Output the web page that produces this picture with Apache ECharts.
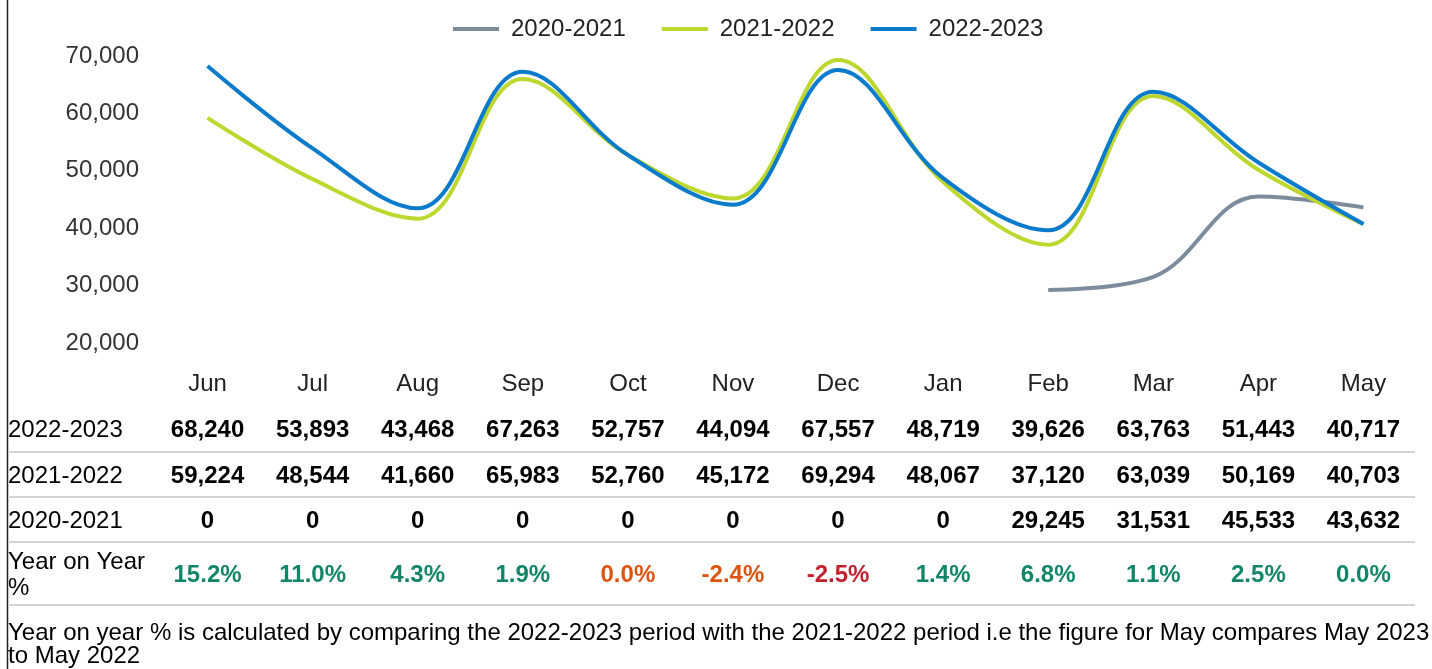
<!DOCTYPE html>
<html>
<head>
<meta charset="utf-8">
<script src="https://cdn.jsdelivr.net/npm/echarts@6/dist/echarts.min.js"></script>
<style>
  html, body { margin: 0; padding: 0; background: #fff; }
  #chart { width: 1432px; height: 669px; }
</style>
</head>
<body>
<div id="chart"></div>
<script>
const months = ['Jun', 'Jul', 'Aug', 'Sep', 'Oct', 'Nov', 'Dec', 'Jan', 'Feb', 'Mar', 'Apr', 'May']
const s2022 = [68240, 53893, 43468, 67263, 52757, 44094, 67557, 48719, 39626, 63763, 51443, 40717]
const s2021 = [59224, 48544, 41660, 65983, 52760, 45172, 69294, 48067, 37120, 63039, 50169, 40703]
const s2020 = [0, 0, 0, 0, 0, 0, 0, 0, 29245, 31531, 45533, 43632]
const yoy = [15.2, 11.0, 4.3, 1.9, 0.0, -2.4, -2.5, 1.4, 6.8, 1.1, 2.5, 0.0]
const yTicks = [20000, 30000, 40000, 50000, 60000, 70000]
const rowNames = ['2022-2023', '2021-2022', '2020-2021']
const note = 'Year on year % is calculated by comparing the 2022-2023 period with the 2021-2022 period i.e the figure for May compares May 2023\nto May 2022'

const FONT = 'Liberation Sans, Arial, sans-serif'
const FS = 24
const SMOOTH = 0.38
const fmt = (v) => v.toLocaleString('en-US')
const yoyColor = (i) => {
  const diff = s2022[i] - s2021[i]
  if (diff >= 0) return '#13866a'
  if (yoy[i] > -2.5) return '#dd5410'
  return '#c4212f'
}

// extra category axes used as table rows
const tableAxis = (labels, margin, color) => ({
  type: 'category',
  data: labels,
  position: 'bottom',
  axisLine: { show: false },
  axisTick: { show: false },
  axisLabel: {
    margin: margin,
    fontFamily: FONT,
    fontSize: FS,
    fontWeight: 'bold',
    color: color,
    interval: 0
  }
})

const chart = echarts.init(document.getElementById('chart'))

const sepLines = [452, 497, 542, 605].map(y => ({
  type: 'line',
  shape: { x1: 8, y1: y, x2: 1415, y2: y },
  style: { stroke: '#d4d4d4', lineWidth: 2 }
}))
const rowLabels = rowNames.map((name, i) => ({
  type: 'text',
  left: 8,
  top: [418, 464, 509][i],
  style: { text: name, font: FS + 'px ' + FONT, fill: '#000' }
}))

chart.setOption({
  animation: false,
  legend: {
    top: 12,
    left: 448,
    itemWidth: 46,
    itemHeight: 4,
    itemGap: 36,
    icon: 'rect',
    textStyle: { fontFamily: FONT, fontSize: FS, color: '#222', padding: [0, 0, 0, 7] },
    data: ['2020-2021', '2021-2022', '2022-2023']
  },
  grid: { left: 155, right: 16, top: 56, height: 287 },
  xAxis: [
    {
      type: 'category',
      data: months,
      boundaryGap: true,
      axisLine: { show: false },
      axisTick: { show: false },
      axisLabel: { margin: 29, fontFamily: FONT, fontSize: FS, color: '#222', interval: 0 }
    },
    tableAxis(s2022.map(fmt), 75, '#000'),
    tableAxis(s2021.map(fmt), 121, '#000'),
    tableAxis(s2020.map(fmt), 166, '#000'),
    tableAxis(yoy.map(v => v.toFixed(1) + '%'), 220, (val, i) => yoyColor(i))
  ],
  yAxis: {
    type: 'value',
    min: yTicks[0],
    max: yTicks[yTicks.length - 1],
    interval: 10000,
    axisLine: { show: false },
    axisTick: { show: false },
    splitLine: { show: false },
    axisLabel: { margin: 16, fontFamily: FONT, fontSize: FS, color: '#333', formatter: (v) => fmt(v) }
  },
  series: [
    {
      name: '2020-2021',
      type: 'line',
      data: s2020.map(v => (v === 0 ? null : v)),
      smooth: SMOOTH,
      showSymbol: false,
      lineStyle: { width: 4, color: '#7c8c9c' },
      itemStyle: { color: '#7c8c9c' }
    },
    {
      name: '2021-2022',
      type: 'line',
      data: s2021,
      smooth: SMOOTH,
      showSymbol: false,
      lineStyle: { width: 4, color: '#bdd72f' },
      itemStyle: { color: '#bdd72f' }
    },
    {
      name: '2022-2023',
      type: 'line',
      data: s2022,
      smooth: SMOOTH,
      showSymbol: false,
      lineStyle: { width: 4, color: '#0a7bcb' },
      itemStyle: { color: '#0a7bcb' }
    }
  ],
  graphic: [
    {
      type: 'line',
      shape: { x1: 7.5, y1: 0, x2: 7.5, y2: 669 },
      style: { stroke: '#222', lineWidth: 1.5 }
    },
    ...sepLines,
    ...rowLabels,
    {
      type: 'text',
      left: 8,
      top: 549,
      style: { text: 'Year on Year\n%', font: FS + 'px ' + FONT, fill: '#000', lineHeight: 26 }
    },
    {
      type: 'text',
      left: 8,
      top: 621,
      style: { text: note, font: FS + 'px ' + FONT, fill: '#000', lineHeight: 23 }
    }
  ]
})
</script>
</body>
</html>
